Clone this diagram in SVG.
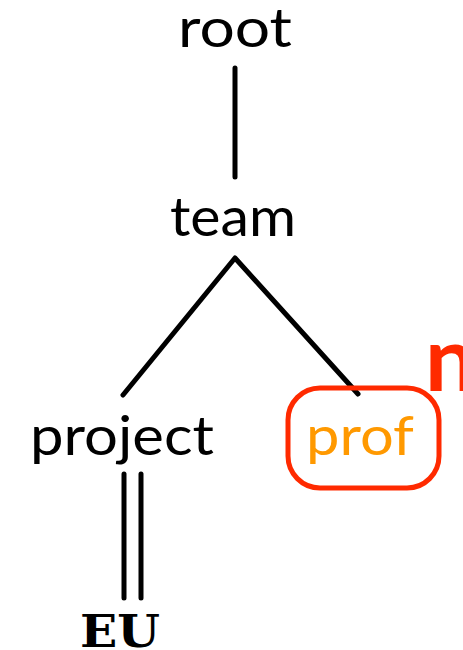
<svg xmlns="http://www.w3.org/2000/svg" width="463" height="650" viewBox="0 0 463 650">
<style>
.lbl{font-family:"Lato","Open Sans",sans-serif;font-size:54px;fill:#000;text-anchor:middle}
.edge{stroke:#000;stroke-width:5;stroke-linecap:round;stroke-linejoin:round;fill:none}
</style>
<rect width="463" height="650" fill="#fff"/>
<g id="connectors">
<line class="edge" x1="235" y1="68" x2="235" y2="177"/>
<polyline class="edge" points="123,395 235,258 358,394"/>
<line class="edge" x1="124" y1="474" x2="124" y2="598"/>
<line class="edge" x1="141" y1="474" x2="141" y2="598"/>
</g>
<g id="root"><text class="lbl" x="235" y="47" textLength="114" lengthAdjust="spacingAndGlyphs">root</text></g>
<g id="team"><text class="lbl" x="233" y="236" textLength="126" lengthAdjust="spacingAndGlyphs">team</text></g>
<g id="project"><text class="lbl" x="122" y="455" textLength="184" lengthAdjust="spacingAndGlyphs">project</text></g>
<g id="prof">
<rect x="288" y="388" width="151" height="100" rx="32" fill="none" stroke="#ff2a00" stroke-width="5"/>
<text class="lbl" x="360" y="455" style="fill:#ff9900" textLength="108" lengthAdjust="spacingAndGlyphs">prof</text>
</g>
<g id="n"><text x="425" y="391" style="font-family:'Lato',sans-serif;font-weight:bold;font-size:90px;fill:#ff2a00">n</text></g>
<g id="EU"><text x="120" y="647" style="font-family:'DejaVu Serif',serif;font-weight:bold;font-size:44px;text-anchor:middle;fill:#000" textLength="80" lengthAdjust="spacingAndGlyphs">EU</text></g>
</svg>
